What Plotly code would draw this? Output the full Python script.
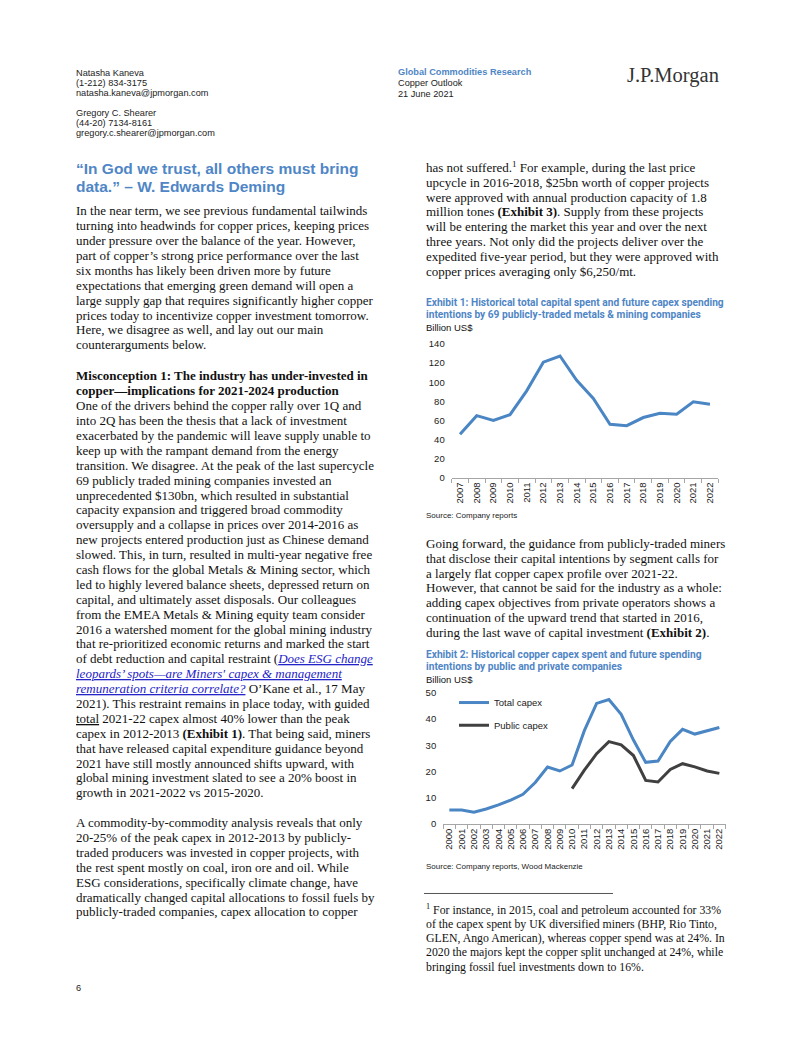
import plotly.graph_objects as go

W, H = 802, 1037


def px(x):
    return x / W


def py(y):
    return 1 - y / H


# ---------------- data ----------------
ex1_years = [str(y) for y in range(2007, 2023)]
ex1_capex = [45.5, 65, 60, 66, 91, 121, 127.5, 102, 83, 56, 54.5, 63, 67.5, 66.5, 79.5, 77]
ex1_yticks = [0, 20, 40, 60, 80, 100, 120, 140]

ex2_years = [str(y) for y in range(2000, 2023)]
ex2_total = [5.3, 5.3, 4.5, 5.7, 7.3, 9.1, 11.3, 15.8, 21.7, 20.2, 22.5, 35.6, 46.0,
             47.5, 41.8, 32.0, 23.5, 24.0, 31.5, 36.1, 34.3, 35.6, 36.8]
ex2_public = [None] * 10 + [13.5, 20.5, 26.8, 31.4, 30.2, 26.1, 16.6, 16.0, 20.8,
                            23.0, 21.8, 20.2, 19.3]
ex2_yticks = [0, 10, 20, 30, 40, 50]

# ---------------- text ----------------
authors = ["Natasha Kaneva", "(1-212) 834-3175", "natasha.kaneva@jpmorgan.com"]
authors2 = ["Gregory C. Shearer", "(44-20) 7134-8161", "gregory.c.shearer@jpmorgan.com"]
header = ["Copper Outlook", "21 June 2021"]

heading = ["“In God we trust, all others must bring", "data.” – W. Edwards Deming"]
para1 = [
    "In the near term, we see previous fundamental tailwinds",
    "turning into headwinds for copper prices, keeping prices",
    "under pressure over the balance of the year. However,",
    "part of copper’s strong price performance over the last",
    "six months has likely been driven more by future",
    "expectations that emerging green demand will open a",
    "large supply gap that requires significantly higher copper",
    "prices today to incentivize copper investment tomorrow.",
    "Here, we disagree as well, and lay out our main",
    "counterarguments below.",
]
misc = ["Misconception 1: The industry has under-invested in",
        "copper—implications for 2021-2024 production"]
LK = '<span style="color:#2424C8"><i><u>'
LE = '</u></i></span>'
para2 = [
    "One of the drivers behind the copper rally over 1Q and",
    "into 2Q has been the thesis that a lack of investment",
    "exacerbated by the pandemic will leave supply unable to",
    "keep up with the rampant demand from the energy",
    "transition. We disagree. At the peak of the last supercycle",
    "69 publicly traded mining companies invested an",
    "unprecedented $130bn, which resulted in substantial",
    "capacity expansion and triggered broad commodity",
    "oversupply and a collapse in prices over 2014-2016 as",
    "new projects entered production just as Chinese demand",
    "slowed. This, in turn, resulted in multi-year negative free",
    "cash flows for the global Metals &amp; Mining sector, which",
    "led to highly levered balance sheets, depressed return on",
    "capital, and ultimately asset disposals. Our colleagues",
    "from the EMEA Metals &amp; Mining equity team consider",
    "2016 a watershed moment for the global mining industry",
    "that re-prioritized economic returns and marked the start",
    "of debt reduction and capital restraint (" + LK + "Does ESG change" + LE,
    LK + "leopards’ spots—are Miners' capex &amp; management" + LE,
    LK + "remuneration criteria correlate?" + LE + " O’Kane et al., 17 May",
    "2021). This restraint remains in place today, with guided",
    "<u>total</u> 2021-22 capex almost 40% lower than the peak",
    "capex in 2012-2013 <b>(Exhibit 1)</b>. That being said, miners",
    "that have released capital expenditure guidance beyond",
    "2021 have still mostly announced shifts upward, with",
    "global mining investment slated to see a 20% boost in",
    "growth in 2021-2022 vs 2015-2020.",
    "",
    "A commodity-by-commodity analysis reveals that only",
    "20-25% of the peak capex in 2012-2013 by publicly-",
    "traded producers was invested in copper projects, with",
    "the rest spent mostly on coal, iron ore and oil. While",
    "ESG considerations, specifically climate change, have",
    "dramatically changed capital allocations to fossil fuels by",
    "publicly-traded companies, capex allocation to copper",
]
right1 = [
    "has not suffered.<sup>1</sup> For example, during the last price",
    "upcycle in 2016-2018, $25bn worth of copper projects",
    "were approved with annual production capacity of 1.8",
    "million tones <b>(Exhibit 3)</b>. Supply from these projects",
    "will be entering the market this year and over the next",
    "three years. Not only did the projects deliver over the",
    "expedited five-year period, but they were approved with",
    "copper prices averaging only $6,250/mt.",
]
right2 = [
    "Going forward, the guidance from publicly-traded miners",
    "that disclose their capital intentions by segment calls for",
    "a largely flat copper capex profile over 2021-22.",
    "However, that cannot be said for the industry as a whole:",
    "adding capex objectives from private operators shows a",
    "continuation of the upward trend that started in 2016,",
    "during the last wave of capital investment <b>(Exhibit 2)</b>.",
]
footnote = [
    "<sup>1</sup> For instance, in 2015, coal and petroleum accounted for 33%",
    "of the capex spent by UK diversified miners (BHP, Rio Tinto,",
    "GLEN, Ango American), whereas copper spend was at 24%. In",
    "2020 the majors kept the copper split unchanged at 24%, while",
    "bringing fossil fuel investments down to 16%.",
]
ex1_title = ["Exhibit 1: Historical total capital spent and future capex spending",
             "intentions by 69 publicly-traded metals &amp; mining companies"]
ex2_title = ["Exhibit 2: Historical copper capex spent and future spending",
             "intentions by public and private companies"]
unit = "Billion US$"
ex1_source = "Source: Company reports"
ex2_source = "Source: Company reports, Wood Mackenzie"

# ---------------- styles ----------------
SERIF = "Liberation Serif, Times New Roman, serif"
SANS = "Liberation Sans, Arial, sans-serif"
TITLE = "Roboto, Liberation Sans, Arial, sans-serif"
BLUE = "#4F86C6"
LINE_BLUE = "#4A85C4"
DARK = "#404040"

annotations = []


def txt(x, y, s, size, family=SERIF, color="#111111"):
    annotations.append(dict(
        x=px(x), y=py(y), xref="paper", yref="paper", text=s, showarrow=False,
        xanchor="left", yanchor="middle", align="left", borderpad=0,
        font=dict(size=size, family=family, color=color)))


def block(x, y0, lines, step, size, family=SERIF, color="#111111"):
    for i, s in enumerate(lines):
        if s:
            txt(x, y0 + i * step, s, size, family, color)


LX, RX = 75, 425
BODY = 13
STEP = 15.05

block(LX, 67.5, authors, 10.3, 9.2, SANS, "#222222")
block(LX, 108, authors2, 10.2, 9.2, SANS, "#222222")
txt(397, 66.5, "<b>Global Commodities Research</b>", 9.2, SANS, BLUE)
block(397, 78, header, 11.2, 9.2, SANS, "#222222")
txt(626, 70, "J.P.Morgan", 20.5, SERIF, "#333333")

block(LX, 164, ["<b>" + s + "</b>" for s in heading], 18.5, 15.5, SANS, BLUE)
block(LX, 207, para1, STEP, BODY)
block(LX, 373, ["<b>" + s + "</b>" for s in misc], 15.2, BODY)
block(LX, 404, para2, STEP, BODY)
txt(LX, 993, "6", 9.2, SANS, "#222222")

block(RX, 163, right1, STEP, BODY)
block(RX, 299.5, ["<b>" + s + "</b>" for s in ex1_title], 12.8, 10.2, TITLE, BLUE)
txt(RX, 325, unit, 9.5, SANS, "#111111")
txt(RX, 515, ex1_source, 8, SANS, "#222222")

block(RX, 543, right2, STEP, BODY)
block(RX, 655, ["<b>" + s + "</b>" for s in ex2_title], 12.8, 10.2, TITLE, BLUE)
txt(RX, 681, unit, 9.5, SANS, "#111111")
txt(RX, 870, ex2_source, 8, SANS, "#222222")

block(RX, 913, footnote, 14.5, 11.8)

# ---------------- figure ----------------
fig = go.Figure()
fig.add_trace(go.Scatter(x=ex1_years, y=ex1_capex, mode="lines",
                         line=dict(color=LINE_BLUE, width=3), showlegend=False,
                         xaxis="x", yaxis="y"))
fig.add_trace(go.Scatter(x=ex2_years, y=ex2_total, mode="lines", name="Total capex",
                         line=dict(color=LINE_BLUE, width=3), legend="legend",
                         xaxis="x2", yaxis="y2"))
fig.add_trace(go.Scatter(x=ex2_years, y=ex2_public, mode="lines", name="Public capex",
                         line=dict(color=DARK, width=3), legend="legend2",
                         xaxis="x2", yaxis="y2"))

tickfont = dict(family=SANS, size=9.5, color="#222222")
xcommon = dict(type="category", showgrid=False, zeroline=False, showline=True,
               linecolor="#A6A6A6", linewidth=1, ticks="outside", tickson="boundaries",
               ticklen=4, tickcolor="#A6A6A6", tickangle=-90, tickfont=tickfont,
               tickmode="array")
ycommon = dict(showgrid=False, zeroline=False, showline=False, ticks="",
               tickfont=tickfont, ticklabelstandoff=6)

legfont = dict(family=SANS, size=9.5, color="#222222")
fig.update_layout(
    xaxis=dict(xcommon, domain=[px(451.7), px(718.3)], range=[-0.5, 15.5], anchor="y",
               tickvals=ex1_years),
    yaxis=dict(ycommon, domain=[py(476.7), py(341.7)], range=[0, 140],
               tickvals=ex1_yticks, anchor="x"),
    xaxis2=dict(xcommon, domain=[px(443.2), px(725.5)], range=[-0.5, 22.5], anchor="y2",
                tickvals=ex2_years),
    yaxis2=dict(ycommon, domain=[py(826.7), py(694.3)], range=[0, 50],
                tickvals=ex2_yticks, anchor="x2"),
    legend=dict(x=px(454), y=py(704), xanchor="left", yanchor="middle",
                bgcolor="rgba(0,0,0,0)", font=legfont),
    legend2=dict(x=px(454), y=py(727), xanchor="left", yanchor="middle",
                 bgcolor="rgba(0,0,0,0)", font=legfont),
    shapes=[dict(type="line", xref="paper", yref="paper", x0=px(424), x1=px(613),
                 y0=py(897), y1=py(897), line=dict(color="#555555", width=1))],
    annotations=annotations,
    width=W, height=H, autosize=False,
    margin=dict(l=0, r=0, t=0, b=0),
    paper_bgcolor="white", plot_bgcolor="white",
)

fig.write_html("out.html",
               config={"displayModeBar": False},
               post_script="document.body.style.margin='0px';"
                           "document.body.style.overflow='hidden';")
